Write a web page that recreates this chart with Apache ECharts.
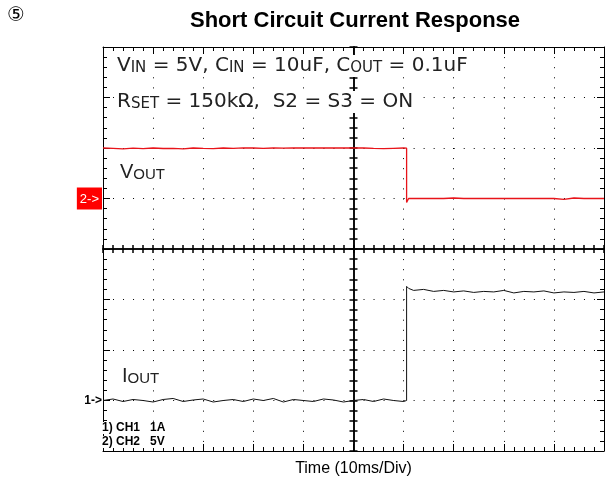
<!DOCTYPE html>
<html>
<head>
<meta charset="utf-8">
<script src="https://cdn.jsdelivr.net/npm/echarts@6/dist/echarts.min.js"></script>
<style>
  html, body { margin: 0; padding: 0; background: #fff; }
  #chart { width: 607px; height: 489px; }
</style>
</head>
<body>
<div id="chart"></div>
<script>
// scope capture: 10 ms/div, CH1 = Iout (1 A/div), CH2 = Vout (5 V/div)
const timeMs = [0, 2, 4, 6, 8, 10, 12, 14, 16, 18, 20, 22, 24, 26, 28, 30, 32, 34, 36, 38,
  40, 42, 44, 46, 48, 50, 52, 54, 56, 58, 60, 60.6, 60.6, 61,
  62, 64, 66, 68, 70, 72, 74, 76, 78, 80, 82, 84, 86, 88, 90, 92, 94, 96, 98, 100];

const voutV = [5.0, 4.96, 4.92, 4.98, 4.93, 5.0, 4.95, 4.97, 4.92, 5.0, 4.96, 4.94, 5.0, 4.97, 5.01, 5.0, 4.96, 5.0, 4.98, 5.0,
  5.0, 5.0, 5.0, 5.0, 5.0, 5.01, 5.0, 4.96, 4.94, 4.97, 5.0, 4.98, -0.4, 0.0,
  0.0, 0.0, 0.0, 0.0, 0.05, 0.0, 0.0, 0.0, 0.0, 0.0, 0.0, 0.0, 0.0, 0.0, 0.0, -0.08, 0.05, 0.0, 0.0, 0.0];

const ioutA = [0.0, 0.03, -0.02, 0.02, 0.0, -0.03, 0.02, 0.04, -0.02, 0.01, 0.03, -0.03, 0.0, 0.02, -0.02, 0.03, 0.0, 0.04, -0.03, 0.02,
  0.0, -0.02, 0.03, 0.01, -0.03, 0.0, 0.02, -0.02, 0.03, 0.0, -0.02, 0.0, 2.26, 2.22,
  2.18, 2.2, 2.16, 2.18, 2.15, 2.17, 2.14, 2.16, 2.15, 2.18, 2.13, 2.16, 2.15, 2.17, 2.13, 2.15, 2.14, 2.16, 2.13, 2.15];

// screen ranges: 10 x 8 divisions
const timeRange = [0, 100];
const divRange = [-4, 4];
const voutRange = [-25, 15];   // ground marker 1 div above centre
const ioutRange = [-1, 7];     // ground marker 3 div below centre

const FONT = 'Arial, "Liberation Sans", sans-serif';
const WIDE = '"DejaVu Sans", Arial, sans-serif';

function frameX(pos, extra) {
    return Object.assign({
        type: 'value', position: pos, min: timeRange[0], max: timeRange[1], interval: 10,
        axisLine: { onZero: false, lineStyle: { color: '#000', width: 1 } },
        axisTick: { inside: true, length: 7, lineStyle: { color: '#000' } },
        minorTick: { show: true, splitNumber: 5, length: 4, lineStyle: { color: '#000' } },
        axisLabel: { show: false },
        splitLine: { show: false }
    }, extra);
}

function frameY(pos, extra) {
    return Object.assign({
        type: 'value', position: pos, min: divRange[0], max: divRange[1], interval: 1,
        axisLine: { onZero: false, lineStyle: { color: '#000', width: 1 } },
        axisTick: { inside: true, length: 7, lineStyle: { color: '#000' } },
        minorTick: { show: true, splitNumber: 5, length: 4, lineStyle: { color: '#000' } },
        axisLabel: { show: false },
        splitLine: { show: false }
    }, extra);
}

function crossX(inside) {
    return frameX('bottom', {
        axisLine: { onZero: true, onZeroAxisIndex: 0, lineStyle: { color: '#000', width: 1.5 } },
        axisTick: { inside: inside, length: 4, lineStyle: { color: '#000', width: 1.5 } },
        minorTick: { show: true, splitNumber: 5, length: 4, lineStyle: { color: '#000', width: 1.5 } }
    });
}

function crossY(inside) {
    return frameY('left', {
        axisLine: { onZero: true, onZeroAxisIndex: 4, lineStyle: { color: '#000', width: 1.5 } },
        axisTick: { inside: inside, length: 4, lineStyle: { color: '#000', width: 1.5 } },
        minorTick: { show: true, splitNumber: 5, length: 4, lineStyle: { color: '#000', width: 1.5 } }
    });
}

function markerAxis(range, step, label, rich) {
    return {
        type: 'value', position: 'left', min: range[0], max: range[1], interval: step,
        axisLine: { show: false, onZero: false },
        axisTick: { show: false },
        splitLine: { show: false },
        axisLabel: {
            margin: 1,
            formatter: function (v) { return v === 0 ? '{m|' + label + '}' : ''; },
            rich: { m: rich }
        }
    };
}

// annotation text: big letters with small-cap style suffixes sitting on the baseline
function note(left, top, text, size, subSize, family) {
    return {
        type: 'text', left: left, top: top, z: 50,
        style: {
            text: text,
            fontSize: size, fontFamily: family, fill: '#222',
            lineHeight: size, verticalAlign: 'bottom',
            backgroundColor: '#fff', padding: [1, 2, 1, 2],
            rich: {
                b: { fontSize: size, lineHeight: size, verticalAlign: 'bottom', fontFamily: family, color: '#222' },
                s: { fontSize: subSize, lineHeight: subSize, verticalAlign: 'bottom', fontFamily: family, color: '#222' }
            }
        }
    };
}

const chart = echarts.init(document.getElementById('chart'));

chart.setOption({
    animation: false,
    title: {
        text: 'Short Circuit Current Response',
        left: 185, top: 5,
        textStyle: { fontSize: 22, fontWeight: 'bold', color: '#000', fontFamily: FONT }
    },
    grid: { left: 103, right: 3, top: 47, bottom: 38 },
    xAxis: [
        frameX('bottom', {
            name: 'Time (10ms/Div)', nameLocation: 'middle', nameGap: 10,
            nameTextStyle: { fontSize: 16, color: '#000', fontFamily: FONT },
            splitLine: { show: true, lineStyle: { color: '#000', width: 1, type: [1, 9.1] } }
        }),
        frameX('top'),
        crossX(true),
        crossX(false),
        { type: 'value', min: -50, max: 50, show: false }
    ],
    yAxis: [
        frameY('left', {
            splitLine: { show: true, lineStyle: { color: '#000', width: 1, type: [1, 9.02] } }
        }),
        frameY('right'),
        crossY(true),
        crossY(false),
        markerAxis(voutRange, 5, '2->', {
            color: '#fff', backgroundColor: '#f00', fontSize: 13, fontFamily: FONT,
            padding: [5, 3, 4, 3]
        }),
        markerAxis(ioutRange, 1, '1->', {
            color: '#000', fontSize: 12, fontWeight: 'bold', fontFamily: FONT
        })
    ],
    series: [
        {
            name: 'VOUT', type: 'line', xAxisIndex: 0, yAxisIndex: 4,
            data: timeMs.map((t, i) => [t, voutV[i]]),
            symbol: 'none', lineStyle: { color: '#e8141a', width: 1.3 }
        },
        {
            name: 'IOUT', type: 'line', xAxisIndex: 0, yAxisIndex: 5,
            data: timeMs.map((t, i) => [t, ioutA[i]]),
            symbol: 'none', lineStyle: { color: '#111', width: 1 }
        }
    ],
    graphic: [
        { type: 'text', left: 7, top: 6, style: { text: '⑤', fontSize: 20, fontFamily: '"DejaVu Sans", "Noto Sans CJK SC", sans-serif', fill: '#000' } },
        note(115, 55, '{b|V}{s|IN}{b| = 5V, C}{s|IN}{b| = 10uF, C}{s|OUT}{b| = 0.1uF}', 20, 15, WIDE),
        note(115, 91, '{b|R}{s|SET}{b| = 150kΩ,  S2 = S3 = ON}', 20, 15, WIDE),
        note(118, 161, '{b|V}{s|OUT}', 20, 15, FONT),
        note(120, 365, '{b|I}{s|OUT}', 20, 15, FONT),
        { type: 'text', left: 102, top: 422, z: 50, style: {
            text: '1) CH1   1A', fontSize: 12, fontWeight: 'bold', fontFamily: FONT, fill: '#000', backgroundColor: '#fff' } },
        { type: 'text', left: 102, top: 436, z: 50, style: {
            text: '2) CH2   5V', fontSize: 12, fontWeight: 'bold', fontFamily: FONT, fill: '#000', backgroundColor: '#fff' } }
    ]
});

window.addEventListener('resize', function () {
    chart.resize();
});
</script>
</body>
</html>
